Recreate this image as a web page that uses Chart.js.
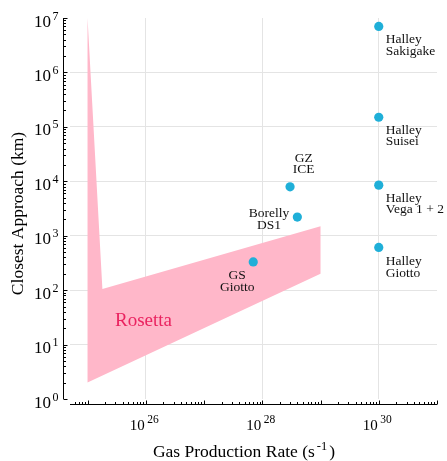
<!DOCTYPE html>
<html><head><meta charset="utf-8">
<script src="https://cdn.jsdelivr.net/npm/chart.js@4"></script>
<style>html,body{margin:0;padding:0;background:#fff}</style>
</head><body>
<canvas id="c" width="447" height="461"></canvas>
<script>
// ---- data ----
const missionLines = [
  ['Halley', 'Sakigake'],
  ['Halley', 'Suisei'],
  ['Halley', 'Vega 1 + 2'],
  ['Halley', 'Giotto'],
  ['GZ', 'ICE'],
  ['Borelly', 'DS1'],
  ['GS', 'Giotto']
];
const gasRate = [1e30, 1e30, 1e30, 1e30, 3e28, 4e28, 7e27];
const closestApproach = [7e6, 1.5e5, 8.5e3, 6.1e2, 7.9e3, 2.2e3, 3.3e2];
const rosettaX = [1e25, 1.8e25, 1e29, 1e29, 1e25];
const rosettaY = [1e7, 105, 1.5e3, 200, 2];
const rosettaLabel = 'Rosetta';
const xTickExp = [26, 28, 30];
const yTickExp = [0, 1, 2, 3, 4, 5, 6, 7];
const xMin = 5e24, xMax = 1e31, yMin = 1, yMax = 1e7;
const xTitle = ['Gas Production Rate (s', '-1', ')'];
const yTitle = 'Closest Approach (km)';

// ---- styles / placement ----
const FONT = '"Liberation Serif","Times New Roman",serif';
// [align, dx, dy of first baseline]
const labelPlace = [
  ['left', 7, 16.5], ['left', 7, 16.5], ['left', 7, 16.5], ['left', 7, 17.5],
  ['center', 13.6, -25.3], ['center', -28.4, 0], ['center', -16, 17]
];

const axesPlugin = {
  id: 'axesPlugin',
  afterDraw(chart) {
    const ctx = chart.ctx, xs = chart.scales.x, ys = chart.scales.y, a = chart.chartArea;
    ctx.save();
    ctx.strokeStyle = '#000'; ctx.fillStyle = '#000'; ctx.lineWidth = 1;
    const yAxisX = Math.round(a.left - 7) + 0.5;
    const xAxisY = Math.round(a.bottom + 5) + 0.5;
    // y axis
    ctx.beginPath();
    ctx.moveTo(yAxisX, ys.getPixelForValue(yMax));
    ctx.lineTo(yAxisX, ys.getPixelForValue(yMin));
    for (let e = 0; e <= 7; e++) {
      for (let k = 1; k <= 9; k++) {
        const v = k * Math.pow(10, e);
        if (v > yMax * 1.0001) break;
        const py = Math.round(ys.getPixelForValue(v)) + 0.5;
        ctx.moveTo(yAxisX, py); ctx.lineTo(yAxisX + (k === 1 ? 4 : 2.5), py);
      }
    }
    // x axis
    ctx.moveTo(a.left, xAxisY); ctx.lineTo(a.right, xAxisY);
    for (let e = 24; e <= 31; e++) {
      for (let k = 1; k <= 9; k++) {
        const v = k * Math.pow(10, e);
        if (v < xMin || v > xMax) continue;
        const px = Math.round(xs.getPixelForValue(v)) + 0.5;
        ctx.moveTo(px, xAxisY); ctx.lineTo(px, xAxisY - (k === 1 ? 4 : 2.5));
      }
    }
    ctx.stroke();

    // y tick labels
    ctx.textBaseline = 'alphabetic';
    yTickExp.forEach(e => {
      const py = ys.getPixelForValue(Math.pow(10, e));
      const right = yAxisX - 5;
      ctx.font = '12px ' + FONT;
      const ew = ctx.measureText(String(e)).width;
      ctx.textAlign = 'right';
      ctx.fillText(String(e), right, py + 1.5);
      ctx.font = '17px ' + FONT;
      ctx.fillText('10', right - ew - 1.5, py + 8.5);
    });
    // x tick labels
    xTickExp.forEach(e => {
      const px = xs.getPixelForValue(Math.pow(10, e));
      ctx.font = '15px ' + FONT;
      const bw = ctx.measureText('10').width;
      ctx.font = '11.5px ' + FONT;
      const ew = ctx.measureText(String(e)).width;
      const start = px - (bw + 2.5 + ew) / 2 - 1.5;
      ctx.textAlign = 'left';
      ctx.font = '15px ' + FONT;
      ctx.fillText('10', start, xAxisY + 25.5);
      ctx.font = '11.5px ' + FONT;
      ctx.fillText(String(e), start + bw + 2.5, xAxisY + 18.5);
    });
    // x title
    ctx.font = '17.5px ' + FONT;
    const w0 = ctx.measureText(xTitle[0]).width;
    const w2 = ctx.measureText(xTitle[2]).width;
    ctx.font = '12.5px ' + FONT;
    const w1 = ctx.measureText(xTitle[1]).width;
    let tx = 244 - (w0 + w1 + w2 + 4) / 2;
    const tb = 457;
    ctx.textAlign = 'left';
    ctx.font = '17.5px ' + FONT; ctx.fillText(xTitle[0], tx, tb); tx += w0 + 2;
    ctx.font = '12.5px ' + FONT; ctx.fillText(xTitle[1], tx, tb - 7); tx += w1 + 2;
    ctx.font = '17.5px ' + FONT; ctx.fillText(xTitle[2], tx, tb);
    // y title
    ctx.save();
    ctx.translate(18, (a.top + a.bottom) / 2 + 5);
    ctx.rotate(-Math.PI / 2);
    ctx.textAlign = 'center'; ctx.textBaseline = 'middle';
    ctx.font = '17.5px ' + FONT;
    ctx.fillText(yTitle, 0, 0);
    ctx.restore();

    // mission annotations
    ctx.font = '13.5px ' + FONT;
    ctx.fillStyle = '#111';
    missionLines.forEach((lines, i) => {
      const px = xs.getPixelForValue(gasRate[i]);
      const py = ys.getPixelForValue(closestApproach[i]);
      const [al, dx, dy] = labelPlace[i];
      ctx.textAlign = al;
      lines.forEach((t, j) => ctx.fillText(t, px + dx, py + dy + j * 11.7));
    });
    // Rosetta label
    ctx.font = '19px ' + FONT;
    ctx.fillStyle = '#EA2360';
    ctx.textAlign = 'left';
    ctx.fillText(rosettaLabel, 115, 325.7);
    ctx.restore();
  }
};

new Chart(document.getElementById('c'), {
  type: 'scatter',
  data: {
    datasets: [
      {
        type: 'line',
        data: rosettaX.map((x, i) => ({ x, y: rosettaY[i] })),
        fill: 'shape',
        backgroundColor: '#FFB7C9',
        borderColor: 'rgba(0,0,0,0)',
        borderWidth: 0,
        pointRadius: 0,
        tension: 0,
        order: 2
      },
      {
        data: gasRate.map((x, i) => ({ x, y: closestApproach[i] })),
        backgroundColor: '#1FAFD8',
        borderWidth: 0,
        pointRadius: 4.6,
        order: 1
      }
    ]
  },
  options: {
    responsive: false,
    animation: false,
    events: [],
    layout: { padding: { left: 70, right: 10, top: 18, bottom: 62 } },
    plugins: { legend: { display: false }, tooltip: { enabled: false } },
    scales: {
      x: {
        type: 'logarithmic', min: xMin, max: xMax,
        ticks: { display: false }, border: { display: false },
        grid: { color: '#e4e4e4', drawTicks: false, lineWidth: 1 },
        afterBuildTicks(s) { s.ticks = xTickExp.map(e => ({ value: Math.pow(10, e) })); },
        afterFit(s) { s.height = 0; }
      },
      y: {
        type: 'logarithmic', min: yMin, max: yMax,
        ticks: { display: false }, border: { display: false },
        grid: { color: '#e4e4e4', drawTicks: false, lineWidth: 1 },
        afterBuildTicks(s) { s.ticks = yTickExp.filter(e => e > 0 && e < 7).map(e => ({ value: Math.pow(10, e) })); },
        afterFit(s) { s.width = 0; }
      }
    }
  },
  plugins: [axesPlugin]
});
</script>
</body></html>
